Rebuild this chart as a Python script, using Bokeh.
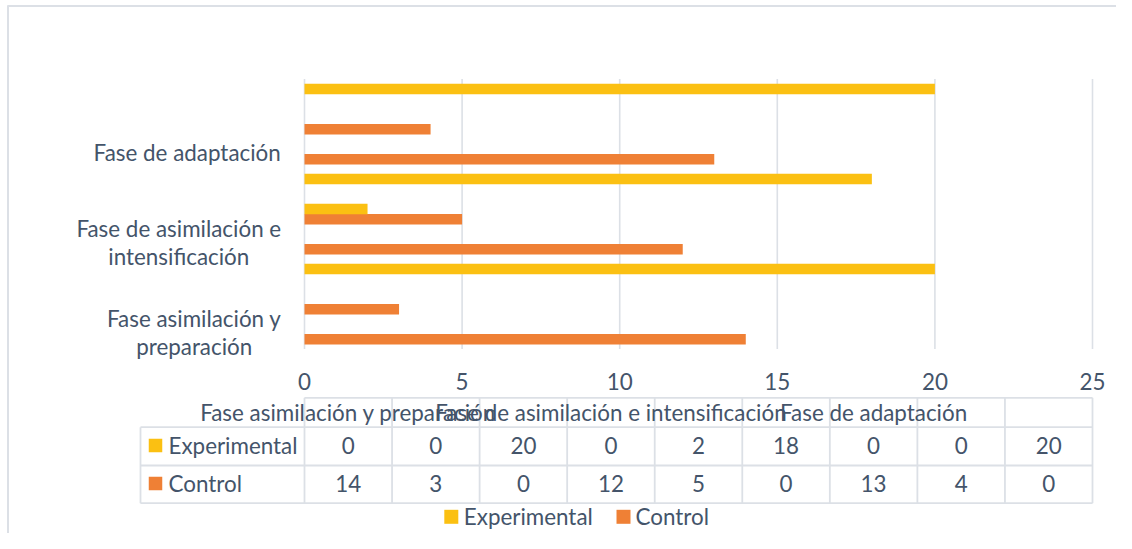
from bokeh.plotting import figure
from bokeh.models import Range1d
from bokeh.core.properties import value
from bokeh.embed import file_html
from bokeh.resources import INLINE

# ---------------- data ----------------
categories = ["Fase asimilación y preparación", "", "",
              "Fase de asimilación e intensificación", "", "",
              "Fase de adaptación", "", ""]
axis_labels = ["Fase asimilación y\npreparación", "", "",
               "Fase de asimilación e\nintensificación", "", "",
               "Fase de adaptación", "", ""]
experimental = [0, 0, 20, 0, 2, 18, 0, 0, 20]
control = [14, 3, 0, 12, 5, 0, 13, 4, 0]
x_ticks = [0, 5, 10, 15, 20, 25]
series_names = ["Experimental", "Control"]

# ---------------- style ----------------
FONT = value("Lato")
FS = "22.4px"
TXT = "#44546A"
GRID = "#DCE0E6"
ORANGE = "#EF8035"
YELLOW = "#FBC012"

W, H = 1116, 533

# mapping of value axis / category axis into the canvas pixel frame
PX0, PXU = 304.0, 31.52     # value 0 -> x px, px per unit
CY0, CYU = 333.6, 30.0      # category 0 centre -> y px, px per category

p = figure(width=W, height=H,
           x_range=Range1d(0, W), y_range=Range1d(H, 0),
           x_axis_type=None, y_axis_type=None,
           output_backend="svg", toolbar_location=None,
           min_border=0, outline_line_color=None,
           background_fill_color="white", border_fill_color="white")
p.grid.visible = False

p.extra_x_ranges = {"val": Range1d((0 - PX0) / PXU, (W - PX0) / PXU)}
p.extra_y_ranges = {"cat": Range1d((CY0 - H) / CYU, (CY0 - 0) / CYU)}

n = len(categories)
idx = list(range(n))

# chart border (left and top visible)
p.segment(x0=[7.5, 7], y0=[5, 5.5], x1=[7.5, W], y1=[H, 5.5],
          line_color=GRID, line_width=2)

# vertical grid lines
p.segment(x0=x_ticks, x1=x_ticks, y0=[-0.5] * len(x_ticks), y1=[n - 0.5] * len(x_ticks),
          x_range_name="val", y_range_name="cat", line_color=GRID, line_width=1.6)

# bars
BH = 0.35
p.hbar(y=[i - 0.17 for i in idx], left=0, right=control, height=BH,
       x_range_name="val", y_range_name="cat", fill_color=ORANGE, line_color=None)
p.hbar(y=[i + 0.17 for i in idx], left=0, right=experimental, height=BH,
       x_range_name="val", y_range_name="cat", fill_color=YELLOW, line_color=None)

# x tick labels
p.text(x=x_ticks, y=[380.5] * len(x_ticks), text=[str(t) for t in x_ticks],
       x_range_name="val", text_align="center", text_baseline="middle",
       text_font=FONT, text_font_size=FS, text_color=TXT)

# category labels (left)
lab_idx = [i for i in idx if axis_labels[i]]
lab_x = {0: 193.7, 3: 178.3, 6: 186.7}
p.text(x=[lab_x[i] for i in lab_idx], y=[i + 0.05 for i in lab_idx],
       text=[axis_labels[i] for i in lab_idx],
       y_range_name="cat", text_align="center", text_baseline="middle",
       text_font=FONT, text_font_size=FS, text_color=TXT, text_line_height=1.01)

# ---------------- data table ----------------
T_LEFT, C_LEFT, C_RIGHT = 140.0, 304.0, 1092.0
Y_HEAD, Y_R1, Y_R2, Y_BOT = 397.3, 426.7, 465.0, 502.7
cw = (C_RIGHT - C_LEFT) / n
edges = [C_LEFT + k * cw for k in range(n + 1)]
centers = [C_LEFT + (k + 0.5) * cw for k in range(n)]

p.segment(x0=[C_LEFT, T_LEFT, T_LEFT, T_LEFT], x1=[C_RIGHT] * 4,
          y0=[Y_HEAD, Y_R1, Y_R2, Y_BOT], y1=[Y_HEAD, Y_R1, Y_R2, Y_BOT],
          line_color=GRID, line_width=1.8)
p.segment(x0=edges + [T_LEFT], x1=edges + [T_LEFT],
          y0=[Y_HEAD] * len(edges) + [Y_R1], y1=[Y_BOT] * (len(edges) + 1),
          line_color=GRID, line_width=1.8)

# header texts (category names)
head_i = [i for i in idx if categories[i]]
p.text(x=[centers[i] for i in head_i], y=[(Y_HEAD + Y_R1) / 2] * len(head_i),
       text=[categories[i] for i in head_i], text_align="center", text_baseline="middle",
       text_font=FONT, text_font_size=FS, text_color=TXT)

# values
row_y = [(Y_R1 + Y_R2) / 2 - 0.8, (Y_R2 + Y_BOT) / 2 - 0.8]
for vals, ry in zip([experimental, control], row_y):
    p.text(x=centers, y=[ry] * n, text=[str(v) for v in vals],
           text_align="center", text_baseline="middle",
           text_font=FONT, text_font_size=FS, text_color=TXT)

# legend keys inside table
p.rect(x=[155, 155], y=row_y, width=13.5, height=13.5,
       fill_color=[YELLOW, ORANGE], line_color=None)
p.text(x=[168, 168], y=row_y, text=series_names, text_align="left", text_baseline="middle",
       text_font=FONT, text_font_size=FS, text_color=TXT)

# ---------------- bottom legend ----------------
LEG_Y = 516.3
p.rect(x=[450.8, 623.0], y=[LEG_Y, LEG_Y], width=14, height=14,
       fill_color=[YELLOW, ORANGE], line_color=None)
p.text(x=[463.3, 635.0], y=[LEG_Y, LEG_Y], text=series_names, text_align="left",
       text_baseline="middle", text_font=FONT, text_font_size=FS, text_color=TXT)

open("out.html", "w").write(file_html(p, INLINE))
